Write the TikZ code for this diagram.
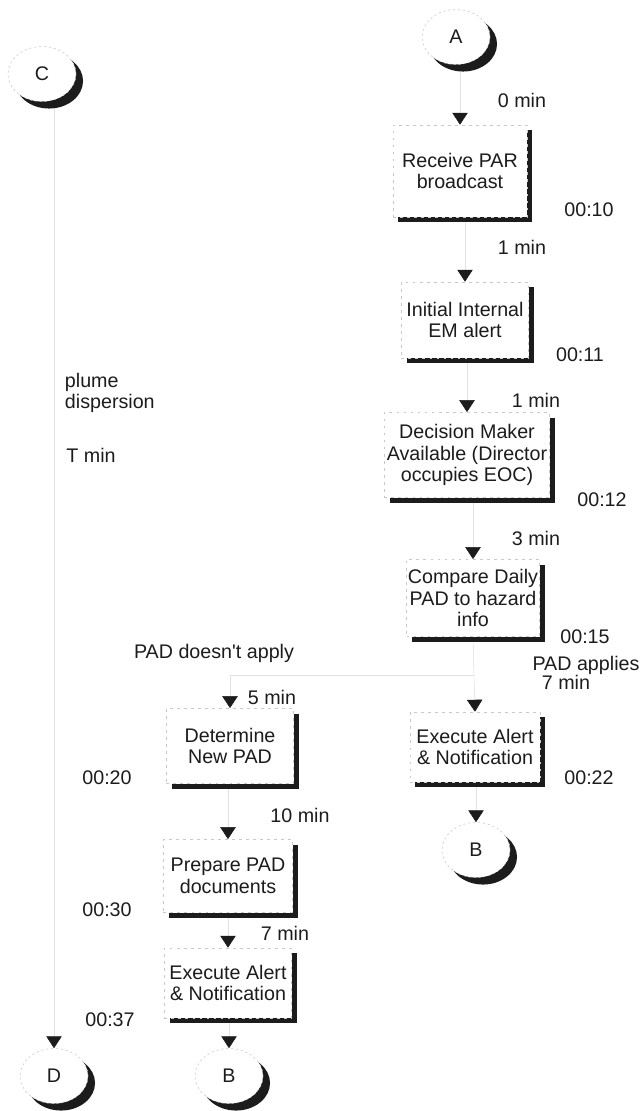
\documentclass[tikz,border=0pt]{standalone}
\usepackage{fontspec}
\setmainfont{Liberation Sans}
\usepackage{tikz}
\usetikzlibrary{positioning,arrows.meta,shapes.geometric,shadows,backgrounds}
\usepackage{xcolor}
\definecolor{inkblack}{RGB}{28,28,28}
\definecolor{fadegray}{RGB}{200,200,200}

\begin{document}
\begin{tikzpicture}[x=0.025cm,y=-0.025cm,
  every node/.style={font=\fontsize{14}{15.4}\selectfont,text=inkblack},
  stepbox/.style={rectangle,draw=fadegray,dash pattern=on 2pt off 3pt,fill=white,
    align=center,inner sep=1pt,
    drop shadow={shadow xshift=3.8pt,shadow yshift=-3.8pt,fill=inkblack,opacity=1}},
  offpage/.style={ellipse,draw=fadegray,dash pattern=on 1.5pt off 2pt,fill=white,
    minimum width=1.7cm,minimum height=1.375cm,inner sep=0pt,
    drop shadow={shadow xshift=5pt,shadow yshift=-5pt,fill=inkblack,opacity=1}},
  flow/.style={draw=fadegray!55,line width=0.4pt,
    -{Triangle[color=inkblack,width=11pt,length=8.5pt]}}]
\useasboundingbox (0,0) rectangle (643,1111);

\node[offpage] (A) at (456,37) {A};
\node[offpage] (C) at (42,74) {C};

\node[stepbox,minimum width=3.35cm,minimum height=2.3cm] (b1) at (460,171) {Receive PAR\\broadcast};
\node[stepbox,minimum width=3.18cm,minimum height=1.9cm] (b2) at (465,320) {Initial Internal\\EM alert};
\node[stepbox,minimum width=4.13cm,minimum height=2.13cm] (b3) at (467,455) {Decision Maker\\Available (Director\\occupies EOC)};
\node[stepbox,minimum width=3.25cm,minimum height=1.93cm] (b4) at (473,598) {Compare Daily\\PAD to hazard\\info};
\node[stepbox,minimum width=3.25cm,minimum height=1.75cm] (b5) at (475,747) {Execute Alert\\\& Notification};
\node[stepbox,minimum width=3.18cm,minimum height=1.88cm] (b6) at (230,746) {Determine\\New PAD};
\node[stepbox,minimum width=3.23cm,minimum height=1.83cm] (b7) at (228,876) {Prepare PAD\\documents};
\node[stepbox,minimum width=3.18cm,minimum height=1.75cm] (b8) at (228,983) {Execute Alert\\\& Notification};

\node[offpage] (Br) at (476,850) {B};
\node[offpage] (Bl) at (229,1076) {B};
\node[offpage] (D) at (54,1076) {D};

\coordinate (split) at (474,675);

\begin{pgfonlayer}{background}
\draw[flow] (b1.north |- A.south) -- (b1.north);
\draw[flow] (b2.north |- b1.south) -- (b2.north);
\draw[flow] (b3.north |- b2.south) -- (b3.north);
\draw[flow] (b4.north |- b3.south) -- (b4.north);
\draw[flow] (b4.south) -- (split) -- (b5.north);
\draw[flow] (split) -| (b6.north);
\draw[flow] (Br.north |- b5.south) -- (Br.north);
\draw[flow] (b7.north |- b6.south) -- (b7.north);
\draw[flow] (b8.north |- b7.south) -- (b8.north);
\draw[flow] (Bl.north |- b8.south) -- (Bl.north);
\draw[flow] (D.north |- C.south) -- (D.north);
\end{pgfonlayer}

\node (d1) at (522,100) {0 min};
\node (k1) at (589,210) {00:10};
\node (d2) at (522,247) {1 min};
\node (k2) at (580,355) {00:11};
\node (d3) at (536,400) {1 min};
\node (k3) at (602,500) {00:12};
\node (d4) at (536,538) {3 min};
\node (k4) at (585,637) {00:15};
\node (yes) at (586,665) {PAD applies};
\node (d5) at (566,682) {7 min};
\node (k5) at (589,778) {00:22};

\node (no) at (214,653) {PAD doesn\textquotesingle t apply};
\node (d6) at (272,697) {5 min};
\node (k6) at (107,778) {00:20};
\node (d7) at (300,815) {10 min};
\node (k7) at (107,910) {00:30};
\node (d8) at (285,933) {7 min};
\node (k8) at (110,1020) {00:37};

\node[anchor=west,align=left] (plume) at (60,393) {plume\\dispersion};
\node (tmin) at (91,455) {T min};
\end{tikzpicture}
\end{document}
